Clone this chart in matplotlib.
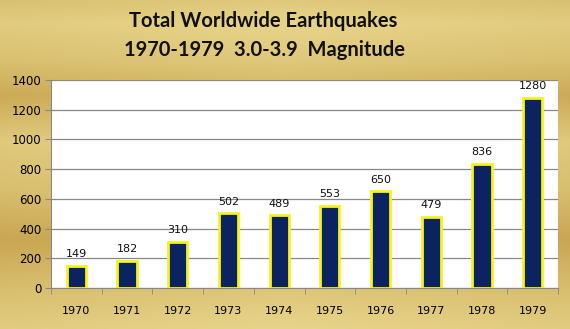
import numpy as np
import matplotlib.pyplot as plt

# yearly counts of magnitude 3.0-3.9 quakes
years = ['1970', '1971', '1972', '1973', '1974', '1975', '1976', '1977', '1978', '1979']
counts = [149, 182, 310, 502, 489, 553, 650, 479, 836, 1280]

fig = plt.figure(figsize=(5.7, 3.29), dpi=100)

# metallic gold backdrop
bg = fig.add_axes([0, 0, 1, 1], zorder=0)
stops_y = np.array([0.0, 0.07, 0.18, 0.29, 0.43, 0.58, 0.73, 0.86, 1.0])
light = np.array([0.70, 0.95, 0.70, 0.25, 0.90, 0.65, 0.15, 0.60, 0.95])
yy = np.linspace(0, 1, 329)
vert = np.interp(yy, stops_y, light)
xx = np.linspace(0, 1, 570)
horiz = 1 - 0.35 * np.abs(xx - 0.5) * 2
shade = vert[:, None] * 0.65 + horiz[None, :] * 0.35 - 0.1
dark = np.array([190, 150, 62]) / 255
pale = np.array([238, 222, 150]) / 255
img = dark[None, None, :] + (pale - dark)[None, None, :] * np.clip(shade, 0, 1)[:, :, None]
bg.imshow(img, aspect='auto', extent=[0, 1, 0, 1], origin='upper')
bg.axis('off')

fig.text(263 / 570, 0.935, 'Total Worldwide Earthquakes', ha='center', va='center',
         fontsize=14.5, fontweight='bold', family='Lato', color='#111111')
fig.text(264 / 570, 0.847, '1970-1979  3.0-3.9  Magnitude', ha='center', va='center',
         fontsize=14.5, fontweight='bold', family='Lato', color='#111111')

ax = fig.add_axes([51 / 570, 1 - 288 / 329, 507 / 570, 208 / 329], zorder=1)
ax.set_facecolor('white')
x = np.arange(len(years))
ax.bar(x, counts, width=0.38, color='#0b2360', edgecolor='#f4f41c', linewidth=2, zorder=3)
for xi, c in zip(x, counts):
    ax.text(xi, c + 45, str(c), ha='center', va='bottom', fontsize=8, color='#111111')

ax.set_ylim(0, 1400)
ax.set_yticks(range(0, 1401, 200))
ax.set_xlim(-0.5, len(years) - 0.5)
ax.set_xticks(x)
ax.set_xticklabels(years)
ax.set_xticks(np.arange(-0.5, len(years), 1), minor=True)
ax.tick_params(axis='x', which='major', length=0, pad=13, labelsize=8)
ax.tick_params(axis='x', which='minor', length=4, color='#888888', direction='out')
ax.tick_params(axis='y', length=4, color='#888888', labelsize=8.5, pad=3)
ax.yaxis.grid(True, color='#888888', linewidth=0.9)
ax.set_axisbelow(True)
for s in ['top', 'right']:
    ax.spines[s].set_visible(False)
ax.spines['left'].set_color('#888888')
ax.spines['bottom'].set_color('#888888')

fig.savefig('out.png', dpi=100)
